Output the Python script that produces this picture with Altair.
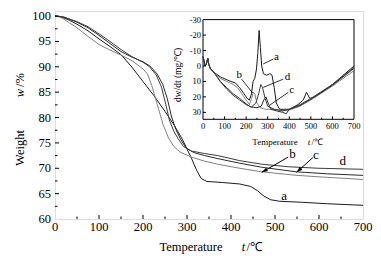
import math
import altair as alt
import pandas as pd

FONT = "Liberation Serif"
W, H = 308, 208
# inset placement inside the main plot area (pixels)
IX0, IX1 = 148, 299
IY0, IY1 = 8.6, 108.3
IYMIN, IYMAX = -30, 34.5

# ---------------- main TG data ----------------
a_t = [0, 15, 30, 50, 75, 100, 125, 150, 175, 200, 225, 250, 270, 290, 310, 322, 332, 345, 380, 420, 445, 460, 475, 490, 510, 560, 620, 700]
a_w = [100, 99.8, 99.3, 98.4, 97.1, 95.5, 94.0, 92.4, 89.9, 87.1, 84.3, 81.2, 78.6, 75.6, 72.0, 69.6, 68.0, 67.4, 67.2, 66.9, 66.4, 65.6, 64.5, 63.8, 63.5, 63.3, 63.0, 62.7]
b_t = [0, 10, 20, 30, 50, 75, 100, 125, 150, 175, 200, 210, 220, 231, 246, 258, 270, 284, 310, 340, 370, 420, 470, 550, 620, 700]
b_w = [100, 99.9, 99.4, 98.8, 97.7, 96.0, 94.4, 93.3, 92.3, 91.2, 89.6, 88.6, 86.3, 83.0, 78.5, 76.0, 74.3, 73.2, 72.2, 71.4, 70.8, 70.0, 69.3, 68.6, 68.2, 67.8]
c_t = [0, 20, 50, 75, 100, 125, 150, 175, 200, 215, 232, 245, 255, 265, 275, 285, 298, 315, 340, 370, 420, 470, 549, 620, 700]
c_w = [100, 99.8, 98.8, 97.7, 96.2, 94.6, 93.0, 91.9, 91.0, 90.2, 88.6, 86.5, 83.8, 80.1, 77.6, 75.8, 74.0, 73.1, 72.5, 71.9, 71.0, 70.2, 69.3, 68.9, 68.6]
d_t = [0, 20, 50, 75, 100, 125, 150, 175, 200, 215, 230, 242, 252, 260, 270, 280, 292, 310, 340, 370, 420, 470, 530, 600, 700]
d_w = [100, 99.8, 98.9, 97.9, 96.5, 95.0, 93.4, 92.0, 90.9, 90.0, 88.4, 86.0, 82.5, 79.5, 77.3, 75.8, 74.3, 73.4, 72.9, 72.5, 71.5, 70.8, 70.3, 70.0, 69.8]

# ---------------- inset DTG data ----------------
start_t = [0, 5, 10, 15, 22, 27, 35, 50]
start_r = [-6, -3, 0, -1, -5, -1, 2, 4]
da_t = start_t + [80, 120, 150, 170, 190, 205, 215, 225, 232, 240, 248, 254, 260, 266, 272, 280, 295, 310, 320, 330, 340, 355, 400, 440, 465, 480, 495, 520, 600, 700]
da_r = start_r + [7, 9.5, 11, 14, 18, 21, 22, 18, 10, 8, 2, -8, -23, -12, 0, 5, 6, 5, 6, 14, 24, 28, 28, 25, 22, 17, 21, 20, 12, 0]
db_t = start_t + [80, 110, 140, 160, 175, 190, 205, 215, 225, 233, 240, 250, 265, 290, 330, 370, 400, 450, 500, 600, 700]
db_r = start_r + [8, 10, 12, 14, 17, 20, 23, 25, 21, 17, 18, 24, 27, 28, 28, 29, 28.5, 26, 22, 13, 3]
dc_t = start_t + [80, 110, 140, 170, 200, 220, 250, 270, 282, 292, 302, 315, 340, 370, 385, 400, 450, 500, 600, 700]
dc_r = start_r + [10, 14, 18, 21, 24.5, 26.5, 27, 26, 22, 20, 24, 28, 29, 30, 31, 28, 25.5, 21.5, 12.5, 1.5]
dd_t = start_t + [80, 110, 140, 170, 200, 225, 245, 258, 268, 276, 288, 300, 330, 370, 400, 450, 500, 600, 700]
dd_r = start_r + [10, 15, 19, 22, 25, 26.5, 24, 18, 12, 14, 21, 26, 28, 29, 28, 25, 21, 12, 1]

series = ["a", "b", "c", "d"]
colors = ["#1a1a1a", "#808080", "#2b2b2b", "#3c3c3c"]

# annotation labels (data coordinates)
lbl_txt = ["a", "b", "c", "d"]
lbl_t = [521, 540, 593, 654]
lbl_w = [64.6, 72.9, 72.7, 71.5]
arr_t1 = [530, 586]
arr_w1 = [72.2, 72.1]
arr_t2 = [470, 549]
arr_w2 = [69.2, 69.2]

ilbl_t = [341, 168, 411, 392]
ilbl_r = [-5.6, 5.9, 15.6, 6.9]
ip_t1 = [326, 179, 395, 372]
ip_r1 = [-4.5, 8.5, 17.1, 8.5]
ip_t2 = [279, 230, 310, 279]
ip_r2 = [-1.3, 17.5, 25.3, 13.9]

# axes: tick values and their labels
main_x_vals = [0, 100, 200, 300, 400, 500, 600, 700]
main_x_lbls = ["0", "100", "200", "300", "400", "500", "600", "700"]
main_y_vals = [60, 65, 70, 75, 80, 85, 90, 95, 100]
main_y_lbls = ["60", "65", "70", "75", "80", "85", "90", "95", "100"]
main_x_major = [100, 200, 300, 400, 500, 600]
main_x_minor = [50, 150, 250, 350, 450, 550, 650]
main_y_major = [65, 70, 75, 80, 85, 90, 95, 100]
main_y_minor = [62.5, 67.5, 72.5, 77.5, 82.5, 87.5, 92.5, 97.5]
in_x_vals = [0, 100, 200, 300, 400, 500, 600, 700]
in_x_lbls = ["0", "100", "200", "300", "400", "500", "600", "700"]
in_y_vals = [-30, -20, -10, 0, 10, 20, 30]
in_y_lbls = ["-30", "-20", "-10", "0", "10", "20", "30"]
in_x_major = [100, 200, 300, 400, 500, 600]
in_x_minor = [50, 150, 250, 350, 450, 550, 650]
in_y_major = [-20, -10, 0, 10, 20, 30]

# ---------------- tables ----------------
rows = []
for s, tt, ww in zip(series, [a_t, b_t, c_t, d_t], [a_w, b_w, c_w, d_w]):
    for t, w in zip(tt, ww):
        rows.append({"s": s, "t": t, "w": w})
tg = pd.DataFrame(rows)
rows = []
for s, tt, rr in zip(series, [da_t, db_t, dc_t, dd_t], [da_r, db_r, dc_r, dd_r]):
    for t, r in zip(tt, rr):
        rows.append({"s": s, "t": t, "r": r})
dtg = pd.DataFrame(rows)

xs = alt.Scale(domain=[0, 700], nice=False, zero=False)
ys = alt.Scale(domain=[60, 101], nice=False, zero=False)
ixs = alt.Scale(domain=[0, 700], range=[IX0, IX1], nice=False, zero=False)
iys = alt.Scale(domain=[IYMIN, IYMAX], range=[IY0, IY1], nice=False, zero=False)
cs = alt.Scale(domain=series, range=colors)

main_lines = alt.Chart(tg).mark_line(strokeWidth=1).encode(
    x=alt.X("t:Q", scale=xs, axis=None),
    y=alt.Y("w:Q", scale=ys, axis=None),
    color=alt.Color("s:N", scale=cs, legend=None),
    detail="s:N",
    order="t:Q",
)

def xticks(vals, scale, ybase, length):
    return alt.Chart(pd.DataFrame({"v": vals})).mark_rule(color="black", strokeWidth=1).encode(
        x=alt.X("v:Q", scale=scale, axis=None), y=alt.value(ybase), y2=alt.value(ybase - length))

def yticks(vals, scale, xbase, length):
    return alt.Chart(pd.DataFrame({"v": vals})).mark_rule(color="black", strokeWidth=1).encode(
        y=alt.Y("v:Q", scale=scale, axis=None), x=alt.value(xbase), x2=alt.value(xbase + length))

def xlabels(vals, lbls, scale, ypix, size):
    return alt.Chart(pd.DataFrame({"v": vals, "l": lbls})).mark_text(
        font=FONT, fontSize=size, color="black", baseline="top", align="center").encode(
        x=alt.X("v:Q", scale=scale, axis=None), y=alt.value(ypix), text="l:N")

def ylabels(vals, lbls, scale, xpix, size):
    return alt.Chart(pd.DataFrame({"v": vals, "l": lbls})).mark_text(
        font=FONT, fontSize=size, color="black", baseline="middle", align="right").encode(
        y=alt.Y("v:Q", scale=scale, axis=None), x=alt.value(xpix), text="l:N")

lbl_df = pd.DataFrame({"txt": lbl_txt, "t": lbl_t, "w": lbl_w})
main_lbls = alt.Chart(lbl_df).mark_text(font=FONT, fontSize=13, color="black").encode(
    x=alt.X("t:Q", scale=xs, axis=None), y=alt.Y("w:Q", scale=ys, axis=None), text="txt:N")

arr_df = pd.DataFrame({"t1": arr_t1, "w1": arr_w1, "t2": arr_t2, "w2": arr_w2})
arr_df["ang"] = [
    (math.degrees(math.atan2((b - a) * W / 700, ((d - c) * H / 41))) + 360) % 360
    for a, b, c, d in zip(arr_df.t1, arr_df.t2, arr_df.w1, arr_df.w2)
]
arr_lines = alt.Chart(arr_df).mark_rule(color="black", strokeWidth=1).encode(
    x=alt.X("t1:Q", scale=xs, axis=None), x2="t2:Q",
    y=alt.Y("w1:Q", scale=ys, axis=None), y2="w2:Q")
arr_heads = alt.Chart(arr_df).mark_point(shape="M0,0L-0.7,2.2L0.7,2.2Z", filled=True, color="black",
                                         size=30, opacity=1).encode(
    x=alt.X("t2:Q", scale=xs, axis=None), y=alt.Y("w2:Q", scale=ys, axis=None),
    angle=alt.Angle("ang:Q", scale=None))

one = alt.Data(values=[{}])
def title_text(txt, x, y, size, angle=0, style="normal", align="center"):
    kw = dict(font=FONT, fontSize=size, color="black", fontStyle=style, align=align, baseline="middle")
    if angle:
        kw["angle"] = angle
    return alt.Chart(one).mark_text(**kw).encode(x=alt.value(x), y=alt.value(y), text=alt.value(txt))

main = alt.layer(
    main_lines,
    xticks(main_x_major, xs, H, 4), xticks(main_x_minor, xs, H, 2.5),
    yticks(main_y_major, ys, 0, 4), yticks(main_y_minor, ys, 0, 2.5),
    xlabels(main_x_vals, main_x_lbls, xs, H + 2, 12.5),
    ylabels(main_y_vals, main_y_lbls, ys, -4, 12.5),
    main_lbls, arr_lines, arr_heads,
    title_text("Temperature", 136, 236, 12.5),
    title_text("t", 188.5, 236, 12.5, style="italic"),
    title_text("/℃", 191.5, 236, 12.5, align="left"),
    title_text("Weight", -35, 137, 12.5, angle=270),
    title_text("w", -35, 82, 12.5, angle=270, style="italic"),
    title_text("/%", -35, 76, 12.5, angle=270, align="left"),
)

# ---------------- inset ----------------
frame = alt.Chart(pd.DataFrame({"x0": [0], "x1": [700], "y0": [IYMIN], "y1": [IYMAX]})).mark_rect(
    fill="white", stroke="black", strokeWidth=1).encode(
    x=alt.X("x0:Q", scale=ixs, axis=None), x2="x1:Q",
    y=alt.Y("y0:Q", scale=iys, axis=None), y2="y1:Q")

inset_lines = alt.Chart(dtg).mark_line(strokeWidth=1).encode(
    x=alt.X("t:Q", scale=ixs, axis=None), y=alt.Y("r:Q", scale=iys, axis=None),
    color=alt.Color("s:N", scale=cs, legend=None), detail="s:N", order="t:Q")

ilbl_df = pd.DataFrame({"txt": lbl_txt, "t": ilbl_t, "r": ilbl_r})
inset_lbls = alt.Chart(ilbl_df).mark_text(font=FONT, fontSize=11, color="black").encode(
    x=alt.X("t:Q", scale=ixs, axis=None), y=alt.Y("r:Q", scale=iys, axis=None), text="txt:N")
ip_df = pd.DataFrame({"t1": ip_t1, "r1": ip_r1, "t2": ip_t2, "r2": ip_r2})
inset_ptr = alt.Chart(ip_df).mark_rule(color="black", strokeWidth=0.8).encode(
    x=alt.X("t1:Q", scale=ixs, axis=None), x2="t2:Q",
    y=alt.Y("r1:Q", scale=iys, axis=None), y2="r2:Q")

inset = alt.layer(
    frame, inset_lines,
    xticks(in_x_major, ixs, IY1, 3), xticks(in_x_minor, ixs, IY1, 1.5),
    yticks(in_y_major, iys, IX0, 3),
    xlabels(in_x_vals, in_x_lbls, ixs, IY1 + 3, 8.5),
    ylabels(in_y_vals, in_y_lbls, iys, IX0 - 2, 8.5),
    inset_lbls, inset_ptr,
    title_text("Temperature", 220, 130.5, 9),
    title_text("t", 254, 130.5, 9, style="italic"),
    title_text("/℃", 256.5, 130.5, 9, align="left"),
    title_text("dw/dt (mg/℃)", 123, 64, 9.5, angle=270),
)

chart = alt.layer(main, inset).resolve_scale(x="independent", y="independent").properties(
    width=W, height=H, autosize=alt.AutoSizeParams(type="none"),
    padding={"left": 55, "top": 11, "right": 18, "bottom": 44},
).configure_view(stroke="black", strokeWidth=1).configure(background="white")

chart.save("out.html", embed_options={"renderer": "svg", "actions": False})
